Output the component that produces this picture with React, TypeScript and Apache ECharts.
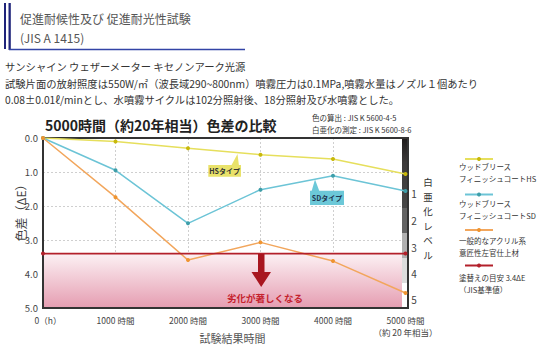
import React, { useEffect, useRef } from 'react';
import * as echarts from 'echarts';

const FONT = '"Noto Sans CJK JP", "Noto Sans", sans-serif';

const hours = [0, 1000, 2000, 3000, 4000, 5000];
const hsValues = [0, 0.1, 0.3, 0.49, 0.62, 1.06];
const sdValues = [0, 0.95, 2.51, 1.52, 1.11, 1.56];
const acrylicValues = [0, 1.74, 3.59, 3.07, 3.62, 4.56];
const repaintThreshold = 3.4;
const yMax = 5;

const seriesNames = [
  'ウッドブリース フィニッシュコートHS',
  'ウッドブリース フィニッシュコートSD',
  '一般的なアクリル系 意匠性左官仕上材',
  '塗替えの目安 3.4ΔE（JIS基準値）',
];
const legendLabels = [
  ['ウッドブリース', 'フィニッシュコートHS'],
  ['ウッドブリース', 'フィニッシュコートSD'],
  ['一般的なアクリル系', '意匠性左官仕上材'],
  ['塗替えの目安 3.4ΔE', '（JIS基準値）'],
];
const xTickLabels: Record<number, string> = {
  0: '0（h）',
  1000: '1000 時間',
  2000: '2000 時間',
  3000: '3000 時間',
  4000: '4000 時間',
  5000: '5000 時間\n（約 20 年相当）',
};
const levelLabels = ['1', '2', '3', '4', '5'];
const levelTitleChars = ['白', '亜', '化', 'レ', 'ベ', 'ル'];
const headerLines = ['促進耐候性及び 促進耐光性試験', '(JIS A 1415)'];
const bodyLines = [
  'サンシャイン ウェザーメーター キセノンアーク光源',
  '試験片面の放射照度は550W/㎡（波長域290~800nm）噴霧圧力は0.1MPa,噴霧水量はノズル１個あたり',
  '0.08±0.01ℓ/minとし、水噴霧サイクルは102分照射後、18分照射及び水噴霧とした。',
];
const chartTitle = '5000時間（約20年相当）色差の比較';
const noteLines = ['色の算出 : JIS K 5600-4-5', '白亜化の測定 : JIS K 5600-8-6'];

const HS_LINE = '#e6df5c';
const HS_DOT = '#c8b80a';
const SD_LINE = '#6cc4d6';
const SD_DOT = '#3e9ea9';
const AC_LINE = '#f2a65c';
const AC_DOT = '#ef9430';
const RED = '#b3202b';

const pair = (vals: number[]) => hours.map((h, i) => [h, vals[i]]);

function buildOption(): any {
  const gridLeft = 43;
  const gridTop = 138;
  const gridW = 362.5;
  const gridH = 170;

  const legendTextEls: any[] = [];
  const legendTop = [166, 203, 240, 277];
  legendLabels.forEach((lines, i) => {
    lines.forEach((t, j) => {
      legendTextEls.push({
        type: 'text', x: 459, y: legendTop[i] + j * 12, z: 20,
        style: { text: t, fontSize: 7.5, fill: '#333', fontFamily: FONT, verticalAlign: 'middle' },
      });
    });
  });

  const levelY = [193, 220, 247, 273, 299];

  const graphic: any[] = [
    // header decoration
    { type: 'rect', shape: { x: 4, y: 3, width: 2, height: 46 }, style: { fill: '#1f237a' } },
    { type: 'rect', shape: { x: 8.5, y: 3, width: 2.3, height: 47 }, style: { fill: '#1f237a' } },
    { type: 'rect', shape: { x: 9, y: 48.8, width: 236, height: 1.4 }, style: { fill: '#3344a6' } },
    ...headerLines.map((t, i) => ({
      type: 'text', x: 20, y: 18 + i * 19,
      style: { text: t, fontSize: 12, fill: '#555', fontFamily: FONT, verticalAlign: 'middle' },
    })),
    ...bodyLines.map((t, i) => ({
      type: 'text', x: 5, y: 66.7 + i * 16.6,
      style: { text: t, fontSize: 10.3, fill: '#333', fontFamily: FONT, verticalAlign: 'middle' },
    })),
    {
      type: 'text', x: 45, y: 125,
      style: { text: chartTitle, fontSize: 14, fontWeight: 'bold', fill: '#222', fontFamily: FONT, verticalAlign: 'middle' },
    },
    ...noteLines.map((t, i) => ({
      type: 'text', x: 312, y: 117.3 + i * 11.7,
      style: { text: t, fontSize: 7.5, fill: '#333', fontFamily: FONT, verticalAlign: 'middle' },
    })),
    // whitening level bar
    {
      type: 'rect', z: 5, shape: { x: 402, y: gridTop, width: 6, height: 70 },
      style: {
        fill: new echarts.graphic.LinearGradient(0, 0, 0, 1, [
          { offset: 0, color: '#1e1a1a' },
          { offset: 0.35, color: '#3c3a3a' },
          { offset: 1, color: '#474747' },
        ]),
      },
    },
    { type: 'rect', z: 5, shape: { x: 402, y: 208, width: 6, height: 25 }, style: { fill: '#636363' } },
    { type: 'rect', z: 5, shape: { x: 402, y: 233, width: 6, height: 25 }, style: { fill: '#b0b0b0' } },
    { type: 'rect', z: 5, shape: { x: 402, y: 258, width: 6, height: 25 }, style: { fill: '#dcdcdc' } },
    { type: 'rect', z: 5, shape: { x: 402, y: 283, width: 6, height: 25 }, style: { fill: '#ffffff' } },
    // frame
    {
      type: 'rect', z: 6, shape: { x: gridLeft, y: gridTop, width: 365, height: gridH },
      style: { fill: 'none', stroke: '#333', lineWidth: 2 },
    },
    ...levelLabels.map((t, i) => ({
      type: 'text', x: 414, y: levelY[i],
      style: { text: t, fontSize: 10, fill: '#444', fontFamily: FONT, align: 'center', verticalAlign: 'middle' },
    })),
    ...levelTitleChars.map((t, i) => ({
      type: 'text', x: 428, y: 182 + i * 14.5,
      style: { text: t, fontSize: 9.5, fill: '#333', fontFamily: FONT, align: 'center', verticalAlign: 'middle' },
    })),
    {
      type: 'text', x: 20, y: 210, rotation: Math.PI / 2,
      style: { text: '色差（ΔE）', fontSize: 12, fill: '#444', fontFamily: FONT, align: 'center', verticalAlign: 'middle' },
    },
    {
      type: 'text', x: 232.5, y: 338,
      style: { text: '試験結果時間', fontSize: 11, fill: '#555', fontFamily: FONT, align: 'center', verticalAlign: 'middle' },
    },
    ...legendTextEls,
    // HS callout
    { type: 'polygon', z: 12, shape: { points: [[231, 166], [239, 166], [237.5, 154]] }, style: { fill: '#e9e26a' } },
    { type: 'rect', z: 12, shape: { x: 208.3, y: 165, width: 32.7, height: 11.7 }, style: { fill: '#e9e26a' } },
    {
      type: 'text', z: 13, x: 224.6, y: 171,
      style: { text: 'HSタイプ', fontSize: 7, fontWeight: 'bold', fill: '#333', fontFamily: FONT, align: 'center', verticalAlign: 'middle' },
    },
    // SD callout
    { type: 'polygon', z: 12, shape: { points: [[311.5, 191.5], [319.5, 191.5], [315, 179.5]] }, style: { fill: '#6cc8d8' } },
    { type: 'rect', z: 12, shape: { x: 310, y: 190.7, width: 34, height: 14.3 }, style: { fill: '#6cc8d8' } },
    {
      type: 'text', z: 13, x: 327, y: 198,
      style: { text: 'SDタイプ', fontSize: 7, fontWeight: 'bold', fill: '#1f3550', fontFamily: FONT, align: 'center', verticalAlign: 'middle' },
    },
    // deterioration arrow
    {
      type: 'polygon', z: 12,
      shape: { points: [[258, 254], [264.5, 254], [264.5, 272], [271, 272], [261.2, 287], [251.5, 272], [258, 272]] },
      style: { fill: '#a8161f' },
    },
    {
      type: 'text', z: 12, x: 265, y: 297.5,
      style: { text: '劣化が著しくなる', fontSize: 9.5, fontWeight: 'bold', fill: '#c5232e', fontFamily: FONT, align: 'center', verticalAlign: 'middle' },
    },
  ];

  const lineSeries = (name: string, vals: number[], line: string, dot: string, width = 1.5) => ({
    name, type: 'line', z: 10, data: pair(vals),
    symbol: 'circle', symbolSize: 4,
    lineStyle: { color: line, width },
    itemStyle: { color: dot },
    color: line,
  });

  return {
    animation: false,
    textStyle: { fontFamily: FONT },
    grid: { left: gridLeft, top: gridTop, width: gridW, height: gridH, show: false },
    legend: {
      data: seriesNames,
      orient: 'vertical',
      left: 459,
      top: 152,
      itemWidth: 28,
      itemHeight: 5,
      itemGap: 31.5,
      selectedMode: false,
      formatter: () => '',
      textStyle: { fontSize: 5, lineHeight: 5 },
    },
    xAxis: {
      type: 'value', min: 0, max: 5000, interval: 1000,
      axisLine: { show: false },
      axisTick: { show: false },
      splitLine: { show: true, lineStyle: { color: '#cfcfcf', type: [2, 2], width: 1 } },
      axisLabel: {
        margin: 6, fontSize: 8.5, color: '#444', lineHeight: 12,
        formatter: (v: number) => (v === 0 ? '{z|' + xTickLabels[v] + '}' : xTickLabels[v] ?? ''),
        rich: { z: { fontSize: 8.5, color: '#444', padding: [0, 0, 0, 10] } },
      },
    },
    yAxis: {
      type: 'value', min: 0, max: yMax, interval: 1, inverse: true,
      axisLine: { show: false },
      axisTick: { show: false },
      splitLine: { show: true, lineStyle: { color: '#cfcfcf', type: [2, 2], width: 1 } },
      axisLabel: { margin: 5, fontSize: 9.5, color: '#444', formatter: (v: number) => v.toFixed(1) },
    },
    graphic,
    series: [
      {
        type: 'line', z: 1, data: [], silent: true,
        markArea: {
          silent: true,
          itemStyle: {
            color: new echarts.graphic.LinearGradient(0, 0, 0, 1, [
              { offset: 0, color: '#fcf1f4' },
              { offset: 1, color: '#e59db1' },
            ]),
          },
          data: [[{ xAxis: 0, yAxis: repaintThreshold }, { xAxis: 4960, yAxis: yMax }]],
        },
      },
      lineSeries(seriesNames[0], hsValues, HS_LINE, HS_DOT),
      lineSeries(seriesNames[1], sdValues, SD_LINE, SD_DOT),
      lineSeries(seriesNames[2], acrylicValues, AC_LINE, AC_DOT),
      {
        name: seriesNames[3], type: 'line', z: 10,
        data: [[hours[0], repaintThreshold], [hours[hours.length - 1], repaintThreshold]],
        symbol: 'circle', symbolSize: 4,
        lineStyle: { color: RED, width: 1.6 },
        itemStyle: { color: RED },
        color: RED,
      },
    ],
  };
}

export default function App() {
  const ref = useRef<HTMLDivElement>(null);
  useEffect(() => {
    if (!ref.current) return;
    const chart = echarts.init(ref.current, null, { renderer: 'svg' });
    chart.setOption(buildOption());
    return () => chart.dispose();
  }, []);
  return (
    <div
      ref={ref}
      style={{ position: 'absolute', left: 0, top: 0, width: 540, height: 351, background: '#fff' }}
    />
  );
}
